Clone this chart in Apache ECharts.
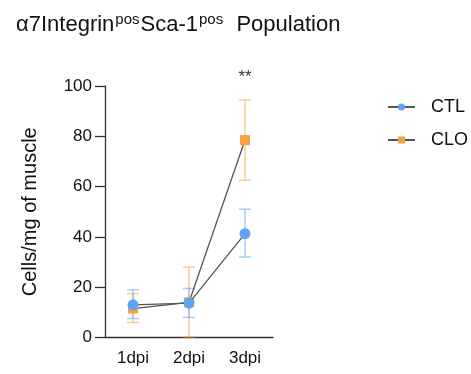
<!DOCTYPE html>
<html><head><meta charset="utf-8">
<script src="https://cdn.jsdelivr.net/npm/echarts@6/dist/echarts.min.js"></script>
<style>html,body{margin:0;padding:0;background:#fff}#c{width:471px;height:374px}</style>
</head><body><div id="c"></div>
<script>
var categories = ['1dpi', '2dpi', '3dpi'];
var ctlMean = [13.0, 13.7, 41.3];
var ctlLow = [7.5, 8.0, 32.0];
var ctlHigh = [19.0, 19.5, 51.0];
var cloMean = [11.5, 14.0, 78.5];
var cloLow = [6.0, 0.2, 62.5];
var cloHigh = [17.5, 28.0, 94.5];
var yTicks = [0, 20, 40, 60, 80, 100];
var sigLabel = '**';
var sigIndex = 2;

var FONT = 'Arial, "Liberation Sans", sans-serif';
var chart = echarts.init(document.getElementById('c'), null, {renderer: 'canvas'});

function errData(low, high) {
  return categories.map(function (c, i) { return [i, low[i], high[i]]; });
}
function errSeries(name, low, high, color) {
  return {
    type: 'custom', name: name + 'err', z: 1, silent: true,
    data: errData(low, high),
    renderItem: function (params, api) {
      var x = api.value(0);
      var lo = api.coord([x, api.value(1)]);
      var hi = api.coord([x, api.value(2)]);
      var w = 6;
      var st = {stroke: color, lineWidth: 1.5};
      return {type: 'group', children: [
        {type: 'line', shape: {x1: lo[0], y1: lo[1], x2: hi[0], y2: hi[1]}, style: st},
        {type: 'line', shape: {x1: lo[0] - w, y1: lo[1], x2: lo[0] + w, y2: lo[1]}, style: st},
        {type: 'line', shape: {x1: hi[0] - w, y1: hi[1], x2: hi[0] + w, y2: hi[1]}, style: st}
      ]};
    }
  };
}

chart.setOption({
  animation: false,
  title: {
    left: 11, top: 7,
    text: 'α7Integrin{s|pos}Sca-1{s|pos}  Population',
    textStyle: {
      fontFamily: FONT, fontSize: 22, fontWeight: 'normal', color: '#111',
      rich: {s: {fontFamily: FONT, fontSize: 15, color: '#111', verticalAlign: 'top', padding: [0, 1, 10, 1]}}
    }
  },
  legend: {
    orient: 'vertical', left: 382, top: 93, itemGap: 15, itemWidth: 27, itemHeight: 9,
    textStyle: {fontFamily: FONT, fontSize: 18, color: '#111', padding: [0, 0, 0, 11]},
    data: [{name: 'CTL'}, {name: 'CLO'}]
  },
  grid: {left: 105, top: 86, right: 198, bottom: 36.5},
  xAxis: {
    type: 'category', data: categories, boundaryGap: true,
    axisLine: {lineStyle: {color: '#333', width: 1.3}},
    axisTick: {alignWithLabel: true, length: 8, lineStyle: {color: '#333', width: 1.3}},
    axisLabel: {fontFamily: FONT, fontSize: 17, color: '#111', margin: 12}
  },
  yAxis: {
    type: 'value', min: 0, max: 100, interval: 20,
    name: 'Cells/mg of muscle', nameLocation: 'middle', nameGap: 65,
    nameTextStyle: {fontFamily: FONT, fontSize: 20, color: '#111'},
    axisLine: {show: true, lineStyle: {color: '#333', width: 1.3}},
    axisTick: {show: true, length: 10, lineStyle: {color: '#333', width: 1.3}},
    splitLine: {show: false},
    axisLabel: {fontFamily: FONT, fontSize: 17, color: '#111', margin: 13}
  },
  series: [
    errSeries('CLO', cloLow, cloHigh, 'rgba(245,165,70,0.55)'),
    errSeries('CTL', ctlLow, ctlHigh, 'rgba(100,165,245,0.55)'),
    {
      name: 'CLO', type: 'line', data: cloMean, z: 3,
      symbol: 'rect', symbolSize: 10, showSymbol: true,
      lineStyle: {color: '#555', width: 1.3},
      itemStyle: {color: '#F5A443'},
      markPoint: {
        symbol: 'circle', symbolSize: 1, itemStyle: {color: 'rgba(0,0,0,0)'},
        label: {show: true, position: 'inside', formatter: sigLabel, color: '#333', fontFamily: FONT, fontSize: 17, offset: [0, -9]},
        data: [{coord: [sigIndex, 100]}]
      }
    },
    {
      name: 'CTL', type: 'line', data: ctlMean, z: 4,
      symbol: 'circle', symbolSize: 11, showSymbol: true,
      lineStyle: {color: '#555', width: 1.3},
      itemStyle: {color: '#5CA5F5'}
    }
  ]
});
</script>
</body></html>
